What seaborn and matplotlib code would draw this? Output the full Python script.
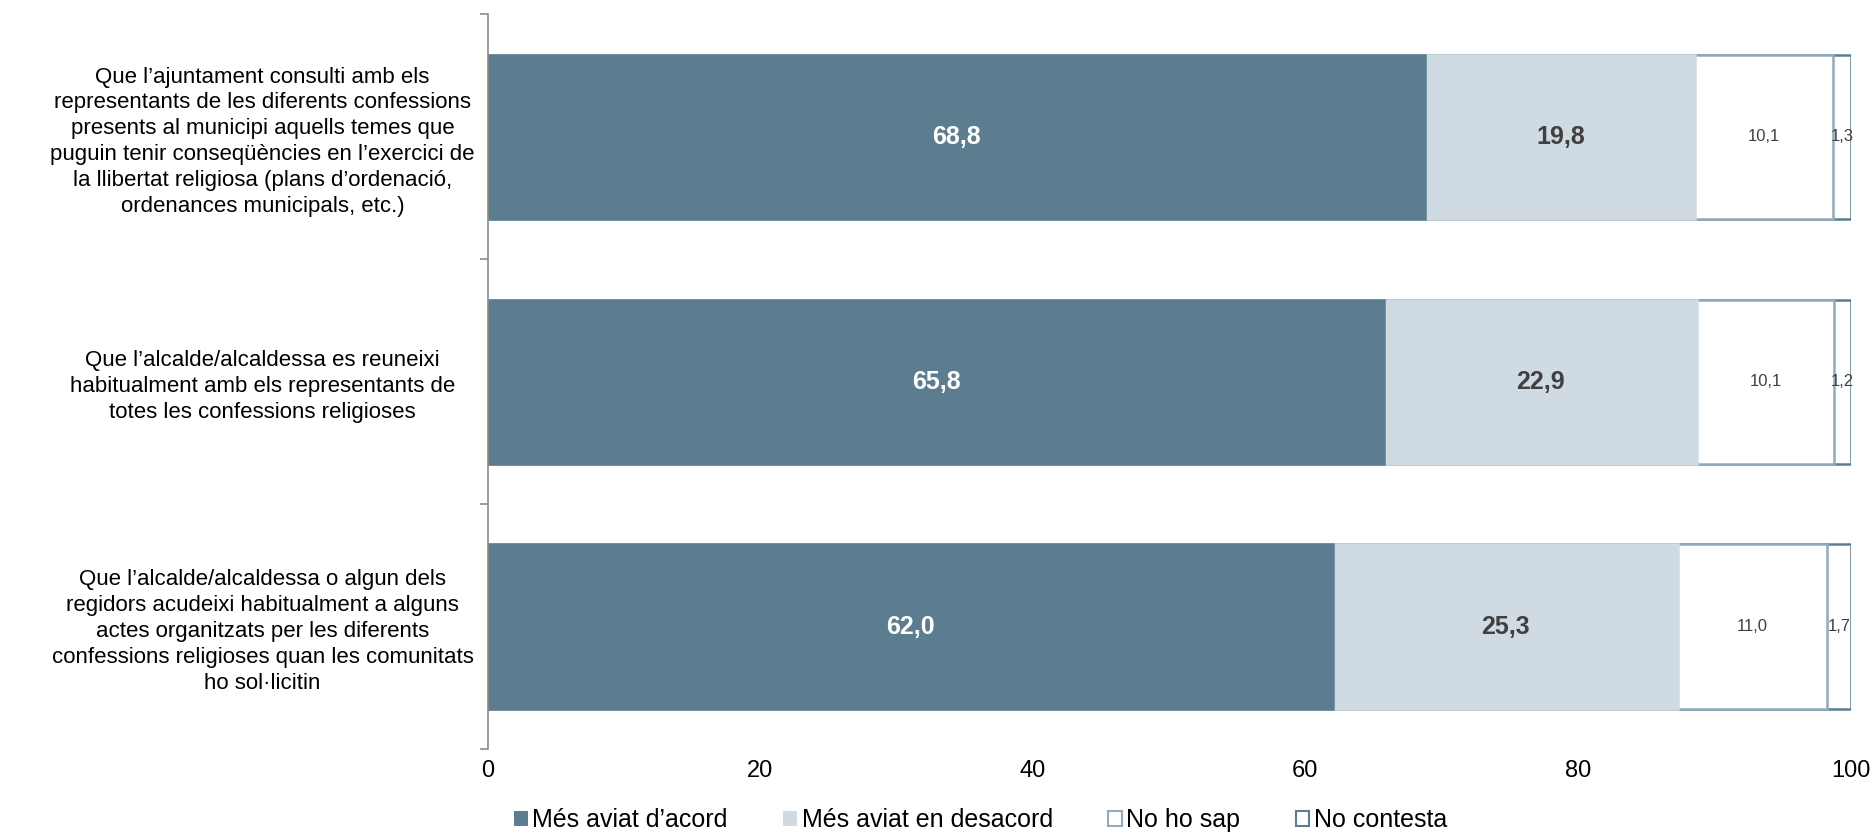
import numpy as np
import pandas as pd
import matplotlib.pyplot as plt
import seaborn as sns
from matplotlib.patches import Patch

# Dades
preguntes = [
    "Que l’ajuntament consulti amb els\nrepresentants de les diferents confessions\npresents al municipi aquells temes que\npuguin tenir conseqüències en l’exercici de\nla llibertat religiosa (plans d’ordenació,\nordenances municipals, etc.)",
    "Que l’alcalde/alcaldessa es reuneixi\nhabitualment amb els representants de\ntotes les confessions religioses",
    "Que l’alcalde/alcaldessa o algun dels\nregidors acudeixi habitualment a alguns\nactes organitzats per les diferents\nconfessions religioses quan les comunitats\nho sol·licitin",
]
acord = [68.8, 65.8, 62.0]
desacord = [19.8, 22.9, 25.3]
no_sap = [10.1, 10.1, 11.0]
no_contesta = [1.3, 1.2, 1.7]
categories = ["Més aviat d’acord", "Més aviat en desacord", "No ho sap", "No contesta"]
xticks = [0, 20, 40, 60, 80, 100]

sns.set_theme(style="white")
plt.rcParams['font.family'] = ['Liberation Sans', 'DejaVu Sans']
plt.rcParams['text.color'] = 'black'
plt.rcParams['xtick.color'] = 'black'
plt.rcParams['ytick.color'] = 'black'

fills = ["#5B7D8F", "#D0DAE2", "white", "white"]
edges = ["#5B7D8F", "#D0DAE2", "#91AABC", "#5B7D8F"]
lws = [1.8, 1.8, 1.8, 1.8]

series = [acord, desacord, no_sap, no_contesta]
cums = np.cumsum(np.array(series), axis=0)
df = pd.DataFrame({"pregunta": preguntes})

fig, ax = plt.subplots(figsize=(18.75, 8.35), dpi=100)
fig.subplots_adjust(left=0.26, right=0.987, top=0.983, bottom=0.103)

# barres apilades: capes acumulades, de la total a la primera
for i in reversed(range(len(series))):
    df["val"] = cums[i]
    sns.barplot(data=df, x="val", y="pregunta", order=preguntes, orient="h",
                errorbar=None, width=0.67,
                facecolor=fills[i], edgecolor=edges[i], linewidth=lws[i], ax=ax)

# etiquetes de valors
for i, vals in enumerate(series):
    start = cums[i] - np.array(vals)
    for j, v in enumerate(vals):
        cx = start[j] + v / 2
        txt = f"{v:.1f}".replace(".", ",")
        if i == 0:
            ax.text(cx, j, txt, ha="center", va="center", color="white",
                    fontsize=18, fontweight="bold")
        elif i == 1:
            ax.text(cx, j, txt, ha="center", va="center", color="#404040",
                    fontsize=18, fontweight="bold")
        else:
            ax.text(cx, j, txt, ha="center", va="center", color="#404040",
                    fontsize=12)

ax.set_xlim(0, 100)
ax.set_ylim(2.5, -0.5)
ax.set_xticks(xticks)
ax.set_xticklabels([str(t) for t in xticks], fontsize=17)
ax.set_xlabel("")
ax.set_ylabel("")

# etiquetes de les preguntes centrades
ax.set_yticks(range(len(preguntes)))
ax.set_yticklabels(preguntes, fontsize=16, ha="center", multialignment="center",
                   linespacing=1.3)
ax.tick_params(axis="y", which="major", length=0, pad=162)
ax.set_yticks([-0.5, 0.5, 1.5, 2.5], minor=True)
ax.tick_params(axis="y", which="minor", length=6, width=1.2, color="#8C8C8C", left=True)
ax.tick_params(axis="x", length=0, pad=8)

for s in ["top", "right", "bottom"]:
    ax.spines[s].set_visible(False)
ax.spines["left"].set_color("#8C8C8C")
ax.spines["left"].set_linewidth(1.2)

handles = [Patch(facecolor=fills[k], edgecolor=edges[k], linewidth=1.5 if k > 1 else 0)
           for k in range(4)]
fig.legend(handles, categories, loc="center", bbox_to_anchor=(0.523, 0.018), ncol=4,
           frameon=False, fontsize=18, handlelength=0.55, handleheight=0.55,
           handletextpad=0.2, columnspacing=2.2)

fig.savefig("out.png", dpi=100)
